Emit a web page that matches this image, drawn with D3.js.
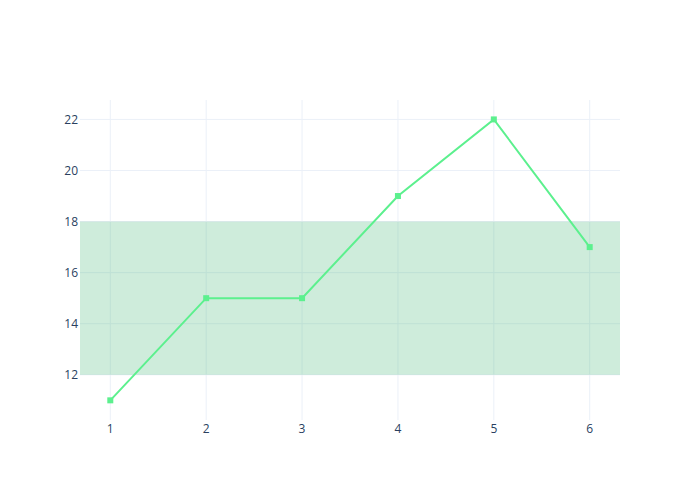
<!DOCTYPE html>
<html>
<head>
  <meta charset="utf-8">
  <script src="https://cdn.jsdelivr.net/npm/d3@7"></script>
  <style>
    body { margin: 0; background: #fff; }
    text { font-family: "Open Sans", sans-serif; font-size: 12px; fill: #2a3f5f; }
  </style>
</head>
<body>
<script>
// data
var xValues = [1, 2, 3, 4, 5, 6];
var yValues = [11, 15, 15, 19, 22, 17];
var xTicks = [1, 2, 3, 4, 5, 6];
var yTicks = [12, 14, 16, 18, 20, 22];
var band = [12, 18];

var margin = {left: 80, top: 100, right: 80, bottom: 80};
var svgWidth = 700, svgHeight = 500;
var w = svgWidth - margin.left - margin.right;
var h = svgHeight - margin.top - margin.bottom;

var svg = d3.select('body').append('svg')
    .attr('width', svgWidth)
    .attr('height', svgHeight);

var g = svg.append('g')
    .attr('transform', 'translate(' + margin.left + ',' + margin.top + ')');

var x = d3.scaleLinear().domain([0.684, 6.316]).range([0, w]);
var y = d3.scaleLinear().domain([10.23, 22.76]).range([h, 0]);

// grid
g.selectAll('.vgrid').data(xTicks).enter().append('line')
    .attr('x1', d => x(d)).attr('x2', d => x(d))
    .attr('y1', 0).attr('y2', h)
    .attr('stroke', '#ebf0f8').attr('stroke-width', 1);
g.selectAll('.hgrid').data(yTicks).enter().append('line')
    .attr('x1', 0).attr('x2', w)
    .attr('y1', d => y(d)).attr('y2', d => y(d))
    .attr('stroke', '#ebf0f8').attr('stroke-width', 1);

// shaded band
g.append('rect')
    .attr('x', 0).attr('width', w)
    .attr('y', y(band[1])).attr('height', y(band[0]) - y(band[1]))
    .attr('fill', 'mediumseagreen').attr('fill-opacity', 0.25);

// axis labels
g.selectAll('.xlab').data(xTicks).enter().append('text')
    .attr('x', d => x(d)).attr('y', h + 4)
    .attr('dy', '0.71em')
    .attr('text-anchor', 'middle')
    .text(d => d);
g.selectAll('.ylab').data(yTicks).enter().append('text')
    .attr('x', -2).attr('y', d => y(d))
    .attr('dy', '0.35em')
    .attr('text-anchor', 'end')
    .text(d => d);

// line + markers
var pts = xValues.map((d, i) => ({x: d, y: yValues[i]}));
var line = d3.line().x(d => x(d.x)).y(d => y(d.y));
g.append('path')
    .datum(pts)
    .attr('d', line)
    .attr('fill', 'none')
    .attr('stroke', '#5cf08e')
    .attr('stroke-width', 2);
g.selectAll('.pt').data(pts).enter().append('rect')
    .attr('x', d => x(d.x) - 3).attr('y', d => y(d.y) - 3)
    .attr('width', 6).attr('height', 6)
    .attr('fill', '#5cf08e');
</script>
</body>
</html>
